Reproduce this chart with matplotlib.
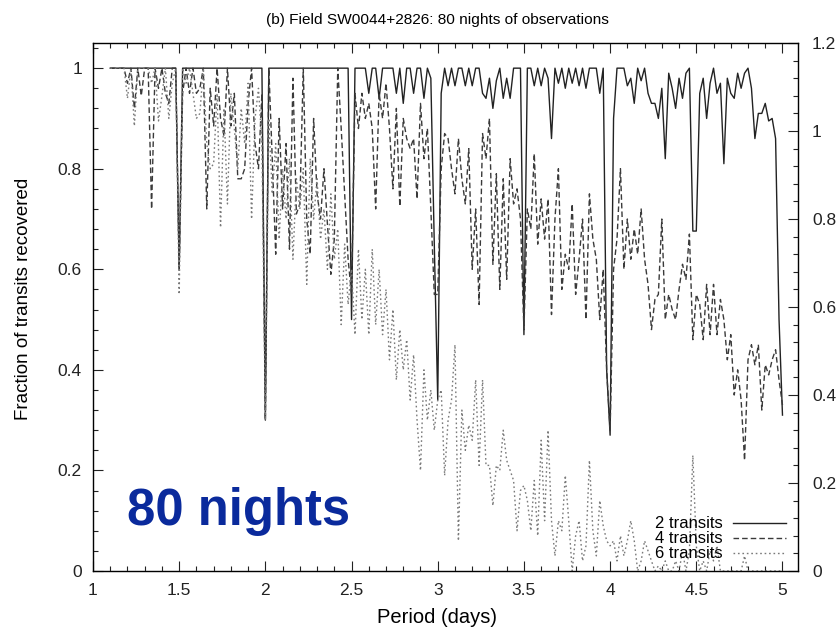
import numpy as np
import matplotlib
matplotlib.use('Agg')
import matplotlib.pyplot as plt
from matplotlib.ticker import MultipleLocator, FormatStrFormatter

plt.rcParams['font.family'] = ['Liberation Sans', 'DejaVu Sans']

# Period grid: 1.10 .. 5.00 days in 0.02 day steps
p_start, p_step = 1.10, 0.02

# Fraction of transits recovered, one row per 0.2 days
frac_2 = [
    1, 1, 1, 1, 1, 1, 1, 1, 1, 1,                                  # 1.10
    1, 1, 1, 1, 1, 1, 1, 1, 1, 1,                                  # 1.30
    0.60, 1, 1, 1, 1, 1, 1, 1, 1, 1,                               # 1.50
    1, 1, 1, 1, 1, 1, 1, 1, 1, 1,                                  # 1.70
    1, 1, 1, 1, 1, 0.30, 1, 1, 1, 1,                               # 1.90
    1, 1, 1, 1, 1, 1, 1, 1, 1, 1,                                  # 2.10
    1, 1, 1, 1, 1, 1, 1, 1, 1, 1,                                  # 2.30
    0.50, 1, 1, 1, 1, 0.95, 1, 1, 0.94, 1,                         # 2.50
    1, 1, 1, 0.95, 1, 0.93, 1, 1, 0.95, 1,                         # 2.70
    1, 0.94, 1, 0.98, 0.65, 0.34, 0.95, 1.0, 0.965, 1.0,           # 2.90
    0.965, 1.0, 1.0, 0.965, 1.0, 0.965, 1.0, 1.0, 0.95, 0.94,      # 3.10
    0.98, 0.92, 0.975, 1.0, 0.94, 0.98, 0.94, 1.0, 1.0, 1.0,       # 3.30
    0.47, 1.0, 1.0, 0.965, 1.0, 0.965, 1.0, 0.98, 0.86, 1.0,       # 3.50
    0.97, 1.0, 0.96, 1.0, 0.97, 1.0, 0.965, 1.0, 0.96, 1.0,        # 3.70
    1.0, 1.0, 0.95, 1.0, 0.40, 0.27, 0.90, 1.0, 1.0, 1.0,          # 3.90
    0.965, 0.98, 0.93, 1.0, 0.975, 1.0, 0.95, 0.93, 0.93, 0.90,    # 4.10
    0.96, 0.82, 0.99, 0.96, 0.92, 0.98, 0.94, 0.99, 1.0, 0.676,    # 4.30
    0.676, 0.95, 0.98, 0.90, 0.97, 1.0, 0.95, 0.97, 0.81, 0.98,    # 4.50
    0.95, 0.94, 0.99, 0.96, 0.99, 1.0, 0.96, 0.86, 0.91, 0.91,     # 4.70
    0.93, 0.895, 0.90, 0.86, 0.50, 0.31,                           # 4.90
]

frac_4 = [
    1, 1, 1, 1, 1, 0.97, 1, 0.92, 1, 0.945,                        # 1.10
    1, 1, 0.72, 1, 0.96, 1, 0.95, 0.93, 1, 1,                      # 1.30
    0.60, 0.95, 1, 0.95, 1, 0.95, 0.96, 1, 0.72, 0.96,             # 1.50
    0.885, 1, 0.90, 0.865, 1, 0.885, 0.95, 0.78, 0.78, 0.80,       # 1.70
    0.93, 1, 0.85, 0.80, 0.95, 0.30, 1.0, 0.82, 0.63, 0.90,        # 1.90
    0.72, 0.85, 0.64, 0.98, 0.71, 0.73, 1.0, 0.70, 0.63, 0.90,     # 2.10
    0.75, 0.70, 0.80, 0.69, 0.59, 0.66, 1.0, 0.88, 0.75, 0.62,     # 2.30
    0.55, 0.95, 0.88, 0.95, 0.90, 0.93, 0.88, 0.72, 0.95, 0.90,    # 2.50
    0.97, 0.88, 0.76, 0.92, 0.725, 0.90, 0.86, 0.84, 0.86, 0.74,   # 2.70
    0.93, 0.82, 0.88, 0.72, 0.55, 0.55, 0.80, 0.87, 0.86, 0.80,    # 2.90
    0.75, 0.86, 0.78, 0.73, 0.84, 0.60, 0.72, 0.53, 0.87, 0.82,    # 3.10
    0.90, 0.61, 0.79, 0.56, 0.78, 0.58, 0.82, 0.73, 0.76, 0.70,    # 3.30
    0.48, 0.72, 0.68, 0.83, 0.65, 0.74, 0.66, 0.74, 0.51, 0.70,    # 3.50
    0.80, 0.56, 0.63, 0.60, 0.73, 0.55, 0.62, 0.70, 0.50, 0.75,    # 3.70
    0.66, 0.62, 0.50, 0.60, 0.40, 0.28, 0.60, 0.66, 0.80, 0.60,    # 3.90
    0.70, 0.62, 0.68, 0.63, 0.72, 0.62, 0.57, 0.48, 0.54, 0.55,    # 4.10
    0.70, 0.50, 0.55, 0.52, 0.50, 0.56, 0.61, 0.58, 0.67, 0.46,    # 4.30
    0.55, 0.53, 0.46, 0.57, 0.47, 0.57, 0.47, 0.54, 0.50, 0.42,    # 4.50
    0.47, 0.35, 0.40, 0.34, 0.22, 0.42, 0.45, 0.41, 0.45, 0.32,    # 4.70
    0.41, 0.39, 0.42, 0.44, 0.38, 0.33,                            # 4.90
]

frac_6 = [
    1, 1, 1, 1, 1, 0.94, 1, 0.885, 1, 1,                           # 1.10
    1, 1, 0.97, 1, 0.895, 0.945, 1, 0.90, 0.97, 1,                 # 1.30
    0.55, 1, 0.97, 1, 0.95, 0.90, 0.91, 1, 0.85, 0.80,             # 1.50
    0.81, 0.95, 0.683, 0.92, 0.73, 0.95, 0.88, 0.80, 0.92, 0.85,   # 1.70
    0.97, 0.70, 0.90, 0.96, 0.85, 0.30, 0.90, 0.75, 0.85, 0.66,    # 1.90
    0.80, 0.70, 0.82, 0.62, 0.78, 0.72, 0.80, 0.57, 0.82, 0.70,    # 2.10
    0.78, 0.66, 0.72, 0.60, 0.75, 0.62, 0.68, 0.49, 0.65, 0.53,    # 2.30
    0.60, 0.47, 0.64, 0.50, 0.60, 0.47, 0.64, 0.49, 0.60, 0.47,    # 2.50
    0.56, 0.42, 0.52, 0.38, 0.48, 0.40, 0.46, 0.34, 0.43, 0.30,    # 2.70
    0.20, 0.40, 0.30, 0.36, 0.28, 0.34, 0.36, 0.19, 0.30, 0.34,    # 2.90
    0.45, 0.06, 0.32, 0.24, 0.29, 0.26, 0.38, 0.21, 0.38, 0.21,    # 3.10
    0.21, 0.13, 0.21, 0.20, 0.28, 0.22, 0.20, 0.18, 0.08, 0.16,    # 3.30
    0.17, 0.14, 0.08, 0.18, 0.07, 0.26, 0.10, 0.28, 0.10, 0.03,    # 3.50
    0.10, 0.08, 0.19, 0.10, 0.0, 0.07, 0.10, 0.02, 0.05, 0.22,     # 3.70
    0.08, 0.03, 0.14, 0.09, 0.06, 0.05, 0.06, 0.02, 0.07, 0.03,    # 3.90
    0.06, 0.10, 0.06, 0.0, 0.02, 0.06, 0.04, 0.02, 0.0, 0.01,      # 4.10
    0.0, 0.02, 0.0, 0.0, 0.02, 0.0, 0.04, 0.0, 0.04, 0.23,         # 4.30
    0.05, 0.0, 0.02, 0.0, 0.04, 0.02, 0.05, 0.0, 0.0, 0.0,         # 4.50
    0.0, 0.0, 0.0, 0.0, 0.03, 0.0, 0.0, 0.0, 0.0, 0.0,             # 4.70
    0.0, 0.0, 0.0, 0.0, 0.0, 0.0,                                  # 4.90
]

labels = ['2 transits', '4 transits', '6 transits']

assert len(frac_2) == len(frac_4) == len(frac_6)
period = np.round(p_start + p_step * np.arange(len(frac_2)), 2)

fig = plt.figure(figsize=(8.37, 6.28), dpi=100)
ax = fig.add_axes([0.1111, 0.0908, 0.8423, 0.8407])

ax.plot(period, frac_2, color='#222222', lw=1.0, ls='-', label=labels[0])
ax.plot(period, frac_4, color='#3a3a3a', lw=1.0, dashes=(4, 2.2), label=labels[1])
ax.plot(period, frac_6, color='#7a7a7a', lw=1.0, dashes=(1.2, 2.0), label=labels[2])

ax.set_xlim(1, 5.09)
ax.set_ylim(0, 1.05)
ax.xaxis.set_major_locator(MultipleLocator(0.5))
ax.xaxis.set_minor_locator(MultipleLocator(0.1))
ax.yaxis.set_major_locator(MultipleLocator(0.2))
ax.yaxis.set_minor_locator(MultipleLocator(0.04))
ax.xaxis.set_major_formatter(FormatStrFormatter('%g'))
ax.yaxis.set_major_formatter(FormatStrFormatter('%g'))
ax.tick_params(which='both', direction='in', top=True, right=False,
               labelsize=12.5, colors='#222222')
ax.tick_params(axis='x', which='major', pad=9)
ax.tick_params(axis='y', which='major', pad=8)
ax.tick_params(which='major', length=7, width=0.8)
ax.tick_params(which='minor', length=3.5, width=0.8)
for s in ax.spines.values():
    s.set_linewidth(1.0)
    s.set_color('#333333')

ax2 = ax.twinx()
ax2.set_ylim(0, 1.2)
ax2.yaxis.set_major_locator(MultipleLocator(0.2))
ax2.yaxis.set_minor_locator(MultipleLocator(0.04))
ax2.yaxis.set_major_formatter(FormatStrFormatter('%g'))
ax2.tick_params(which='both', direction='in', labelsize=12.5, colors='#222222')
ax2.tick_params(which='major', length=7, width=0.8, pad=10)
ax2.tick_params(which='minor', length=3.5, width=0.8)

ax.set_xlabel('Period (days)', fontsize=14.5)
ax.set_ylabel('Fraction of transits recovered', fontsize=13.5)
ax.xaxis.set_label_coords(0.488, -0.071)
ax.yaxis.set_label_coords(-0.086, 0.515)
ax.set_title('(b) Field SW0044+2826: 80 nights of observations', fontsize=11.1,
             pad=14, x=0.488)

ax.legend(loc='lower right', bbox_to_anchor=(0.983, 0.018), frameon=False,
          markerfirst=False, fontsize=12, handlelength=3.2, handletextpad=0.6,
          labelspacing=0.0, borderaxespad=0.0, borderpad=0.0)

ax.text(1.195, 0.092, '80 nights', fontsize=36.5, fontweight='bold',
        color='#0a2a9c', ha='left', va='baseline')

fig.savefig('out.png', dpi=100)
